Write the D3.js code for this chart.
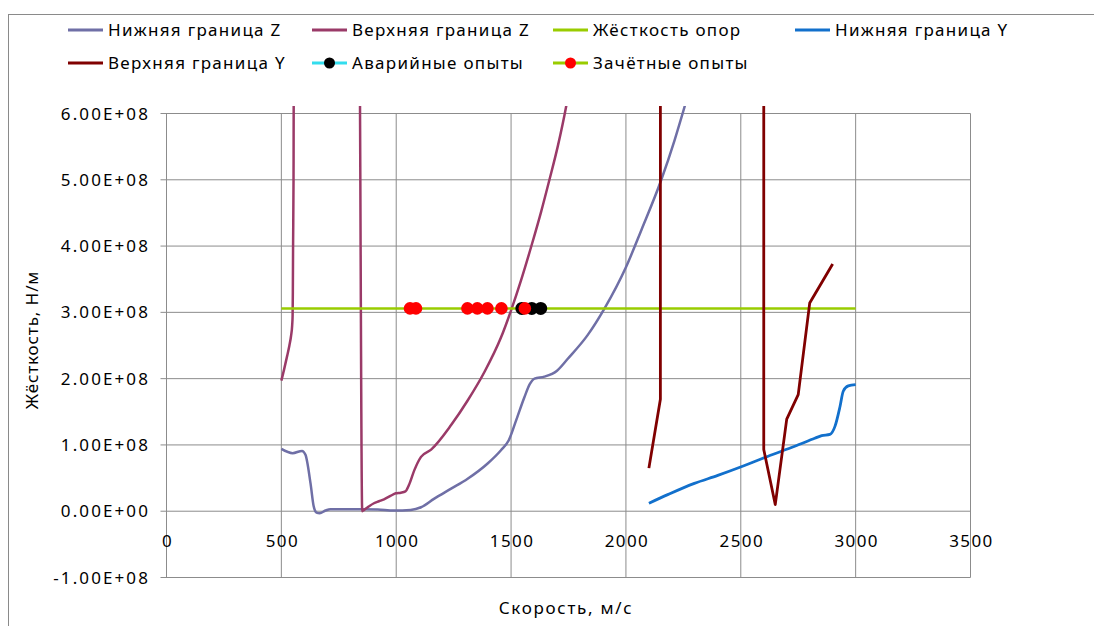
<!DOCTYPE html>
<html><head><meta charset="utf-8">
<script src="https://cdn.jsdelivr.net/npm/d3@7"></script>
<style>
html,body{margin:0;padding:0;background:#fff;}
svg{display:block;}
text{font-family:"Noto Sans","Open Sans",sans-serif;fill:#000;}
</style></head>
<body>
<svg id="chart" width="1094" height="626"></svg>
<script>
// ---- data (speed in m/s, stiffness in 1e8 N/m) ----
const lowerZ_x = [500, 549, 590, 605, 627, 641, 653, 667, 692, 714, 780, 845, 920, 990, 1063, 1108, 1166, 1239, 1311, 1398, 1456, 1490, 1522, 1558, 1582, 1602, 1645, 1700, 1747, 1834, 1907, 2000, 2067, 2154, 2212, 2256, 2280];
const lowerZ_y = [0.94, 0.876, 0.91, 0.85, 0.42, 0.07, -0.02, -0.03, 0.01, 0.03, 0.03, 0.03, 0.025, 0.01, 0.02, 0.06, 0.19, 0.34, 0.49, 0.72, 0.92, 1.07, 1.37, 1.72, 1.92, 2.0, 2.03, 2.12, 2.30, 2.66, 3.06, 3.68, 4.24, 5.0, 5.6, 6.11, 6.4];

const upperZ_x = [500, 512, 525, 535, 542, 547, 549, 550, 551, 553, 555, 838, 852, 860, 880, 903, 925, 947, 975, 998, 1020, 1040, 1056, 1079, 1108, 1152, 1239, 1311, 1384, 1456, 1500, 1544, 1590, 1631, 1667, 1703, 1740, 1760];
const upperZ_y = [1.97, 2.14, 2.34, 2.5, 2.64, 2.8, 2.95, 3.3, 4.0, 5.0, 8.0, 8.0, 0.0, 0.02, 0.07, 0.12, 0.15, 0.18, 0.23, 0.27, 0.28, 0.30, 0.40, 0.62, 0.82, 0.93, 1.30, 1.67, 2.10, 2.62, 3.03, 3.49, 4.02, 4.52, 5.0, 5.5, 6.11, 6.5];

const support_x = [500, 3000];
const support_y = [3.06, 3.06];

const lowerY_x = [2100, 2182, 2298, 2400, 2502, 2619, 2735, 2822, 2852, 2888, 2910, 2932, 2946, 2968, 3000];
const lowerY_y = [0.12, 0.25, 0.42, 0.54, 0.67, 0.83, 0.98, 1.10, 1.14, 1.16, 1.28, 1.58, 1.81, 1.89, 1.91];

const upperY_x = [2100, 2150, 2150, 2600, 2600, 2650, 2700, 2750, 2800, 2900];
const upperY_y = [0.65, 1.69, 8.0, 8.0, 0.93, 0.10, 1.39, 1.76, 3.14, 3.73];

const crash_x = [1547, 1590, 1629];
const crash_y = [3.06, 3.06, 3.06];

const pass_x = [1060, 1086, 1310, 1353, 1397, 1458, 1560];
const pass_y = [3.06, 3.06, 3.06, 3.06, 3.06, 3.06, 3.06];

const xTicks = [0, 500, 1000, 1500, 2000, 2500, 3000, 3500];
const yTicks = [-1, 0, 1, 2, 3, 4, 5, 6];
const yTickLabels = ["-1.00E+08", "0.00E+00", "1.00E+08", "2.00E+08", "3.00E+08", "4.00E+08", "5.00E+08", "6.00E+08"];

const seriesNames = ["Нижняя граница Z", "Верхняя граница Z", "Жёсткость опор", "Нижняя граница Y", "Верхняя граница Y", "Аварийные опыты", "Зачётные опыты"];
const xTitle = "Скорость, м/с";
const yTitle = "Жёсткость, Н/м";

// ---- layout ----
const svg = d3.select("#chart");
const X0 = 166.5, X1 = 970.5, YB = 577.5, YT = 113.5, CLIPTOP = 106;
const x = d3.scaleLinear().domain([0, 3500]).range([X0, X1]);
const y = d3.scaleLinear().domain([-1, 6]).range([YB, YT]);

// outer chart border
svg.append("rect").attr("x", 8.5).attr("y", 14.5).attr("width", 1200).attr("height", 700)
  .attr("fill", "none").attr("stroke", "#8a8a8a").attr("stroke-width", 1);

// gridlines
const grid = svg.append("g");
grid.selectAll("line.h").data(yTicks).join("line")
  .attr("x1", X0 - 6).attr("x2", X1).attr("y1", d => y(d)).attr("y2", d => y(d))
  .attr("stroke", "#8c8c8c").attr("stroke-width", 1);
grid.selectAll("line.v").data(xTicks).join("line")
  .attr("x1", d => x(d)).attr("x2", d => x(d)).attr("y1", YT).attr("y2", YB)
  .attr("stroke", "#8c8c8c").attr("stroke-width", 1);

// y axis labels
svg.append("g").selectAll("text").data(yTicks).join("text")
  .attr("x", 150).attr("y", d => y(d)).attr("dy", "0.36em")
  .attr("text-anchor", "end").style("font-size", "17px").style("letter-spacing", "2.1px")
  .text((d, i) => yTickLabels[i]);

// x axis labels (positioned between 0 and -1e8)
svg.append("g").selectAll("text").data(xTicks).join("text")
  .attr("x", d => x(d) + 1).attr("y", 541).attr("dy", "0.36em")
  .attr("text-anchor", "middle").style("font-size", "17px").style("letter-spacing", "1.4px")
  .text(d => String(d));

// axis titles
svg.append("text").attr("x", 566).attr("y", 608).attr("dy", "0.36em")
  .attr("text-anchor", "middle").style("font-size", "17px").style("letter-spacing", "1.7px")
  .text(xTitle);
svg.append("text").attr("transform", "translate(32,340) rotate(-90)").attr("dy", "0.36em")
  .attr("text-anchor", "middle").style("font-size", "17px").style("letter-spacing", "0.9px")
  .text(yTitle);

// clip for plot
svg.append("clipPath").attr("id", "pclip").append("rect")
  .attr("x", X0 - 2).attr("y", CLIPTOP).attr("width", X1 - X0 + 4).attr("height", YB - CLIPTOP + 2);
const plot = svg.append("g").attr("clip-path", "url(#pclip)");

function pts(xs, ys) { return xs.map((v, i) => [v, ys[i]]); }
const smooth = d3.line().x(d => x(d[0])).y(d => y(d[1])).curve(d3.curveMonotoneX);
const straight = d3.line().x(d => x(d[0])).y(d => y(d[1]));

const colors = {
  lowerZ: "#6f6fa6", upperZ: "#9a3a68", support: "#99cc00",
  lowerY: "#1270cc", upperY: "#800000", crashLine: "#33ddee", passLine: "#99cc00"
};

plot.append("path").attr("d", smooth(pts(lowerZ_x, lowerZ_y)))
  .attr("fill", "none").attr("stroke", colors.lowerZ).attr("stroke-width", 2.5).attr("stroke-linejoin", "round");
plot.append("path").attr("d", smooth(pts(upperZ_x, upperZ_y)))
  .attr("fill", "none").attr("stroke", colors.upperZ).attr("stroke-width", 2.5).attr("stroke-linejoin", "round");
plot.append("path").attr("d", straight(pts(support_x, support_y)))
  .attr("fill", "none").attr("stroke", colors.support).attr("stroke-width", 2.5);
plot.append("path").attr("d", smooth(pts(lowerY_x, lowerY_y)))
  .attr("fill", "none").attr("stroke", colors.lowerY).attr("stroke-width", 2.8).attr("stroke-linejoin", "round");
plot.append("path").attr("d", straight(pts(upperY_x, upperY_y)))
  .attr("fill", "none").attr("stroke", colors.upperY).attr("stroke-width", 2.8).attr("stroke-linejoin", "round");

plot.append("path").attr("d", straight(pts(crash_x, crash_y)))
  .attr("fill", "none").attr("stroke", colors.crashLine).attr("stroke-width", 2);
plot.append("g").selectAll("circle").data(pts(crash_x, crash_y)).join("circle")
  .attr("cx", d => x(d[0])).attr("cy", d => y(d[1])).attr("r", 6.5).attr("fill", "#000");
plot.append("g").selectAll("circle").data(pts(pass_x, pass_y)).join("circle")
  .attr("cx", d => x(d[0])).attr("cy", d => y(d[1])).attr("r", 6.3).attr("fill", "#ff0000");

// legend
const legendItems = [
  {name: seriesNames[0], color: colors.lowerZ, lx: 68, row: 0},
  {name: seriesNames[1], color: colors.upperZ, lx: 312, row: 0},
  {name: seriesNames[2], color: colors.support, lx: 553, row: 0},
  {name: seriesNames[3], color: colors.lowerY, lx: 795, row: 0},
  {name: seriesNames[4], color: colors.upperY, lx: 68, row: 1},
  {name: seriesNames[5], color: colors.crashLine, lx: 312, row: 1, marker: "#000"},
  {name: seriesNames[6], color: colors.passLine, lx: 553, row: 1, marker: "#ff0000"}
];
const rowsY = [30, 63];
const lg = svg.append("g").selectAll("g").data(legendItems).join("g")
  .attr("transform", d => `translate(${d.lx},${rowsY[d.row]})`);
lg.append("line").attr("x1", 0).attr("x2", 35).attr("y1", 0).attr("y2", 0)
  .attr("stroke", d => d.color).attr("stroke-width", 3);
lg.filter(d => d.marker).append("circle").attr("cx", 17.5).attr("cy", 0).attr("r", 5.5)
  .attr("fill", d => d.marker);
lg.append("text").attr("x", 40).attr("y", 0).attr("dy", "0.36em")
  .style("font-size", "17px").style("letter-spacing", "1.3px")
  .text(d => d.name);
</script>
</body></html>
